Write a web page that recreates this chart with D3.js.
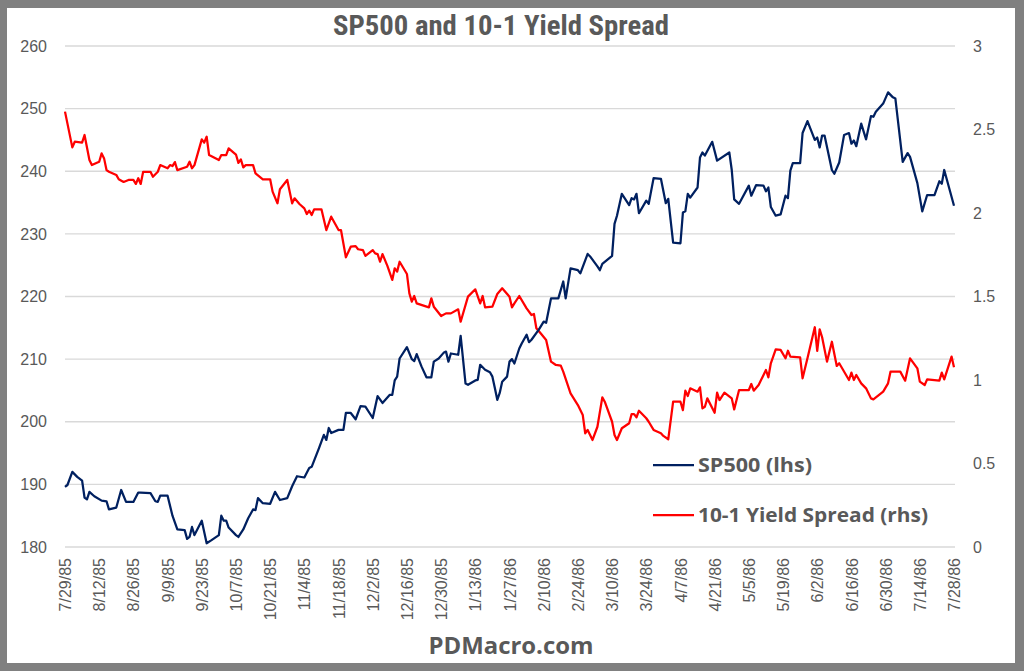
<!DOCTYPE html>
<html>
<head>
<meta charset="utf-8">
<script src="https://cdn.jsdelivr.net/npm/d3@7"></script>
<style>
  html, body { margin: 0; padding: 0; background: #808080; }
  svg { display: block; }
</style>
</head>
<body>
<svg id="chart" width="1024" height="671"></svg>
<script>
// ---------------- DATA ----------------
const title = "SP500 and 10-1 Yield Spread";
const footer = "PDMacro.com";
const startDate = "7/29/85";
const endDate = "7/28/86";
const tickLabels = ["7/29/85","8/12/85","8/26/85","9/9/85","9/23/85","10/7/85","10/21/85","11/4/85",
  "11/18/85","12/2/85","12/16/85","12/30/85","1/13/86","1/27/86","2/10/86","2/24/86","3/10/86",
  "3/24/86","4/7/86","4/21/86","5/5/86","5/19/86","6/2/86","6/16/86","6/30/86","7/14/86","7/28/86"];
const leftTicks = [180, 190, 200, 210, 220, 230, 240, 250, 260];
const rightTicks = [0, 0.5, 1, 1.5, 2, 2.5, 3];
const seriesNames = ["SP500 (lhs)", "10-1 Yield Spread (rhs)"];

// [days after start date, value]
const sp500 = [
  [0,189.6],[1,189.9],[3,192.0],[5,191.2],[7,190.6],[8,187.9],[9,187.6],[10,188.8],[12,188.1],[15,187.4],
  [17,187.3],[18,186.0],[21,186.3],[23,189.1],[25,187.2],[28,187.2],[30,188.7],[31,188.7],[35,188.6],[37,187.3],
  [38,187.2],[39,188.2],[42,188.2],[44,185.0],[46,182.8],[49,182.7],[50,181.3],[51,181.6],[52,183.2],[53,181.9],
  [56,184.2],[58,180.6],[60,181.1],[63,181.9],[64,185.0],[65,184.2],[66,184.2],[67,183.1],[70,181.9],[71,181.6],
  [73,182.8],[75,184.6],[77,186.0],[78,185.9],[79,187.8],[81,187.0],[84,186.9],[86,188.8],[88,187.5],[91,187.8],
  [93,189.7],[95,191.3],[98,191.1],[100,192.6],[101,192.8],[104,195.8],[106,197.9],[107,197.1],[108,199.0],[109,198.2],
  [112,198.7],[114,198.7],[115,201.4],[117,201.4],[119,200.4],[121,202.5],[123,202.4],[126,200.6],[128,204.1],[130,203.0],
  [133,204.3],[134,204.3],[135,206.6],[136,207.2],[137,210.1],[140,211.9],[142,210.0],[143,209.7],[144,210.8],[146,208.8],
  [148,207.1],[150,207.1],[151,209.6],[153,210.1],[155,211.0],[156,211.2],[157,209.6],[158,210.9],[161,210.7],[162,213.7],
  [164,206.1],[165,205.9],[168,206.6],[169,206.7],[170,209.1],[172,208.3],[174,207.9],[175,207.2],[176,205.4],[177,203.5],
  [178,204.6],[179,206.4],[181,207.2],[182,209.6],[183,210.0],[184,209.3],[186,211.7],[187,212.5],[189,213.9],[190,212.7],
  [191,213.1],[194,214.7],[196,216.0],[197,215.8],[199,219.7],[202,219.7],[204,222.4],[205,219.7],[207,224.5],[210,224.2],
  [211,223.7],[214,226.8],[215,226.4],[218,224.8],[219,224.2],[220,225.2],[224,226.5],[225,231.6],[226,232.9],[228,236.4],
  [231,234.6],[232,235.7],[233,235.5],[234,236.4],[235,233.3],[238,235.3],[239,234.8],[241,238.9],[244,238.8],[246,234.9],
  [247,235.6],[249,228.6],[252,228.5],[253,233.4],[254,233.6],[255,236.4],[256,235.8],[259,237.4],[260,242.2],[261,243.0],
  [262,242.5],[265,244.7],[267,241.7],[272,243.0],[273,240.2],[274,235.5],[276,234.8],[280,237.7],[281,236.1],[283,237.8],
  [286,237.7],[287,236.8],[288,237.4],[289,234.3],[291,232.9],[293,233.1],[295,236.1],[296,235.7],[297,240.1],[298,241.3],
  [301,241.3],[302,246.1],[304,248.0],[307,245.0],[308,245.4],[309,243.8],[310,245.7],[311,245.7],[314,240.2],[315,239.6],
  [317,241.4],[319,245.8],[321,246.1],[322,244.4],[323,244.9],[324,244.0],[326,247.6],[328,245.1],[330,248.8],[331,248.7],
  [332,249.5],[335,250.8],[337,252.6],[339,251.8],[340,251.6],[343,241.5],[345,242.9],[346,242.3],[349,238.1],[351,233.6],
  [353,236.2],[356,236.2],[358,238.4],[359,238.0],[360,240.2],[364,234.5]
];

const spread = [
  [0,2.607],[3,2.393],[4,2.427],[7,2.421],[8,2.467],[10,2.317],[11,2.287],[14,2.307],[15,2.357],[16,2.327],
  [17,2.257],[18,2.247],[21,2.228],[22,2.202],[24,2.186],[26,2.198],[28,2.198],[29,2.174],[30,2.208],[31,2.174],
  [32,2.247],[35,2.247],[36,2.217],[38,2.247],[39,2.287],[42,2.268],[43,2.287],[44,2.281],[45,2.305],[46,2.257],
  [50,2.277],[51,2.307],[52,2.268],[53,2.287],[56,2.441],[57,2.421],[58,2.457],[59,2.347],[63,2.317],[64,2.347],
  [66,2.347],[67,2.387],[70,2.350],[71,2.300],[72,2.321],[73,2.273],[74,2.287],[77,2.287],[78,2.237],[81,2.202],
  [84,2.202],[85,2.128],[87,2.058],[88,2.142],[91,2.198],[93,2.058],[94,2.088],[96,2.054],[98,2.028],[99,1.994],
  [100,2.014],[101,1.988],[102,2.022],[105,2.022],[107,1.898],[109,1.978],[112,1.898],[113,1.898],[115,1.735],[117,1.798],
  [119,1.802],[120,1.783],[122,1.778],[123,1.743],[126,1.778],[127,1.758],[128,1.754],[129,1.708],[130,1.754],[132,1.683],
  [134,1.599],[135,1.669],[136,1.649],[137,1.708],[140,1.635],[141,1.519],[142,1.469],[143,1.503],[144,1.459],[149,1.435],
  [150,1.489],[151,1.439],[154,1.383],[156,1.399],[158,1.399],[161,1.423],[162,1.349],[165,1.499],[168,1.543],[170,1.459],
  [171,1.503],[172,1.435],[175,1.439],[177,1.515],[179,1.549],[182,1.499],[183,1.435],[184,1.459],[186,1.503],[189,1.429],
  [191,1.389],[192,1.395],[193,1.310],[195,1.275],[197,1.240],[199,1.110],[201,1.090],[203,1.086],[204,1.050],[207,0.920],
  [210,0.850],[212,0.790],[213,0.681],[214,0.701],[216,0.641],[218,0.720],[220,0.896],[221,0.870],[224,0.750],[225,0.671],
  [226,0.641],[228,0.711],[231,0.741],[232,0.796],[233,0.796],[234,0.777],[235,0.816],[238,0.771],[239,0.750],[241,0.701],
  [244,0.681],[245,0.665],[247,0.645],[249,0.870],[252,0.870],[253,0.820],[254,0.936],[255,0.904],[256,0.950],[259,0.930],
  [260,0.956],[261,0.830],[262,0.840],[263,0.890],[266,0.804],[267,0.924],[268,0.880],[270,0.924],[273,0.890],[274,0.824],
  [276,0.940],[280,0.940],[281,0.976],[282,0.936],[284,0.970],[287,1.060],[288,1.016],[289,1.100],[291,1.184],[293,1.180],
  [295,1.130],[296,1.175],[297,1.140],[301,1.136],[302,1.010],[304,1.130],[307,1.316],[308,1.175],[309,1.303],[310,1.256],
  [312,1.110],[314,1.229],[316,1.084],[317,1.100],[321,1.000],[322,1.044],[323,1.000],[324,1.030],[326,0.980],[328,0.950],
  [330,0.890],[331,0.884],[335,0.930],[337,0.980],[338,1.050],[342,1.050],[344,0.996],[346,1.130],[349,1.070],[350,0.990],
  [352,0.970],[353,1.004],[358,0.996],[359,1.044],[360,1.004],[363,1.140],[364,1.076]
];

// ---------------- CHART ----------------
const W = 1024, H = 671;
const svg = d3.select("#chart");
const textColor = "#595959";
const spColor = "#002060";
const spreadColor = "#ff0000";

// frame
svg.append("rect").attr("x", 0).attr("y", 0).attr("width", W).attr("height", H).attr("fill", "#808080");
svg.append("rect").attr("x", 7).attr("y", 8).attr("width", 1008).attr("height", 655).attr("fill", "#ffffff");

const parse = d3.timeParse("%m/%d/%y");
const t0 = parse(startDate), t1 = parse(endDate);
const plot = { left: 65, right: 954, top: 46, bottom: 547 };

const x = d3.scaleTime().domain([t0, t1]).range([plot.left, plot.right]);
const yL = d3.scaleLinear().domain([180, 260]).range([plot.bottom, plot.top]);
const yR = d3.scaleLinear().domain([0, 3]).range([plot.bottom, plot.top]);

// gridlines
svg.append("g").selectAll("line").data(leftTicks).join("line")
  .attr("x1", plot.left).attr("x2", plot.right + 1)
  .attr("y1", d => yL(d)).attr("y2", d => yL(d))
  .attr("stroke", "#d9d9d9").attr("stroke-width", 1.3);

// left axis
const axL = svg.append("g").attr("transform", `translate(${plot.left},0)`)
  .call(d3.axisLeft(yL).tickValues(leftTicks).tickSize(0).tickPadding(18).tickFormat(d3.format("d")));
axL.select(".domain").remove();
axL.selectAll("text").attr("fill", textColor).style("font-family", "'Liberation Sans', Arial, sans-serif").style("font-size", "16px");

// right axis
const axR = svg.append("g").attr("transform", `translate(${plot.right},0)`)
  .call(d3.axisRight(yR).tickValues(rightTicks).tickSize(0).tickPadding(19).tickFormat(d => String(d)));
axR.select(".domain").remove();
axR.selectAll("text").attr("fill", textColor).style("font-family", "'Liberation Sans', Arial, sans-serif").style("font-size", "16px");

// bottom axis (rotated date labels)
const tickDates = tickLabels.map(parse);
const axB = svg.append("g").attr("transform", `translate(0,${plot.bottom})`)
  .call(d3.axisBottom(x).tickValues(tickDates).tickSize(0).tickFormat((d, i) => tickLabels[i]));
axB.select(".domain").remove();
axB.selectAll("text")
  .attr("fill", textColor)
  .style("font-family", "'Liberation Sans', Arial, sans-serif").style("font-size", "16px")
  .attr("text-anchor", "end")
  .attr("dy", "0.35em")
  .attr("transform", "translate(0,11) rotate(-90)")
  .attr("x", 0).attr("y", 0);

// lines
const toDate = d => d3.timeDay.offset(t0, d[0]);
const lineL = d3.line().x(d => x(toDate(d))).y(d => yL(d[1]));
const lineR = d3.line().x(d => x(toDate(d))).y(d => yR(d[1]));

svg.append("path").datum(spread).attr("d", lineR)
  .attr("fill", "none").attr("stroke", spreadColor).attr("stroke-width", 2.25)
  .attr("stroke-linejoin", "round");
svg.append("path").datum(sp500).attr("d", lineL)
  .attr("fill", "none").attr("stroke", spColor).attr("stroke-width", 2.25)
  .attr("stroke-linejoin", "round");

// legend
const legend = svg.append("g");
const legItems = [
  { name: seriesNames[0], color: spColor, y: 465, w: 114 },
  { name: seriesNames[1], color: spreadColor, y: 515, w: 230 }
];
legItems.forEach(it => {
  legend.append("line").attr("x1", 653).attr("x2", 694).attr("y1", it.y).attr("y2", it.y)
    .attr("stroke", it.color).attr("stroke-width", 2.25);
  legend.append("text").attr("x", 698).attr("y", it.y + 7)
    .attr("fill", textColor)
    .style("font-family", "'Open Sans', 'Noto Sans', sans-serif").style("font-weight", "bold").style("font-size", "20px")
    .attr("textLength", it.w).attr("lengthAdjust", "spacingAndGlyphs")
    .text(it.name);
});

// title
svg.append("text").attr("x", 501).attr("y", 35).attr("text-anchor", "middle")
  .attr("fill", textColor)
  .style("font-family", "'Liberation Sans Narrow', 'Roboto Condensed', 'DejaVu Sans Condensed', 'Liberation Sans', sans-serif")
  .style("font-weight", "bold").style("font-size", "27px")
  .attr("textLength", 336).attr("lengthAdjust", "spacingAndGlyphs")
  .text(title);

// footer
svg.append("text").attr("x", 511).attr("y", 654).attr("text-anchor", "middle")
  .attr("fill", textColor)
  .style("font-family", "'Open Sans', 'Noto Sans', sans-serif").style("font-weight", "bold").style("font-size", "24px")
  .attr("textLength", 165).attr("lengthAdjust", "spacingAndGlyphs")
  .text(footer);
</script>
</body>
</html>
